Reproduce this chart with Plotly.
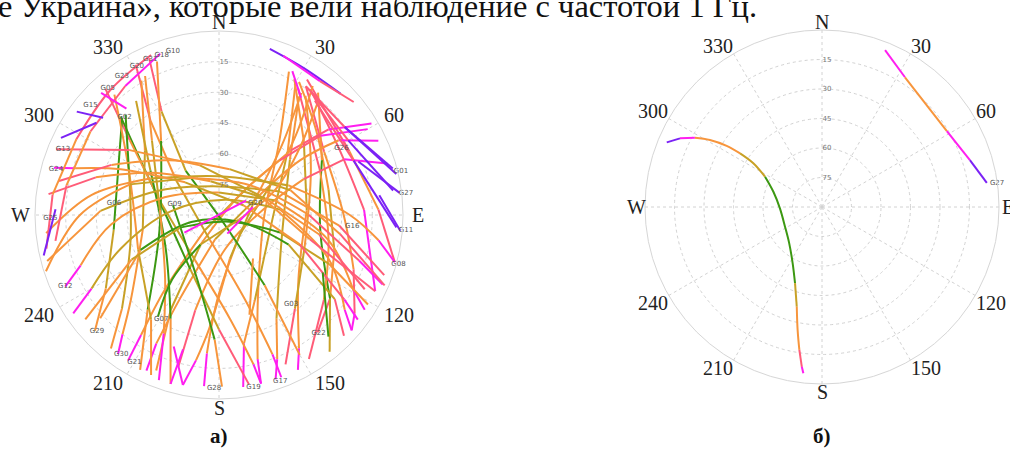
import math
import plotly.graph_objects as go

TOP_TEXT = "е Украина», которые вели наблюдение с частотой 1 Гц."
PANEL_LABELS = ["а)", "б)"]
ANG_TICKS = [0, 30, 60, 90, 120, 150, 180, 210, 240, 270, 300, 330]
ANG_LABELS = ["N", "30", "60", "E", "120", "150", "S", "210", "240", "W", "300", "330"]
EL_TICKS = [15, 30, 45, 60, 75]

# signal-level colour classes: purple, magenta, pink, orange, olive, green
LEVEL_COLORS = ["#7b22f5", "#ff1ef0", "#ff5c78", "#f7953c", "#c8a126", "#3c9812"]

# ---- panel a): satellite tracks (azimuth deg, elevation deg, colour class per segment)
TRACKS_A_AZ = [
    [31, 49, 77, 107, 127, 140],
    [34, 59, 90, 112, 126, 131],
    [36, 62, 88, 116],
    [29, 49, 87, 129, 149, 153],
    [39, 62, 98, 127, 141],
    [34, 52, 112, 151, 158, 161],
    [26, 39, 96, 155, 165, 166],
    [33, 64, 88, 105],
    [32, 66, 103, 129, 148],
    [30, 47, 106, 157, 169, 172],
    [36, 64, 112, 141, 156],
    [59, 52, 48, 46, 223, 216, 213, 212],
    [65, 58, 56, 64, 189, 205, 206, 205],
    [73, 66, 67, 81, 170, 194, 195],
    [36, 44, 60, 134, 181, 185, 185],
    [34, 42, 67, 166, 185, 189, 192],
    [60, 52, 48, 46, 212, 207, 202],
    [315, 305, 270, 208, 180, 170],
    [318, 310, 284, 208, 174, 167, 166],
    [331, 324, 309, 200, 163, 159, 159],
    [336, 331, 323, 149, 147, 150],
    [282, 199, 182, 179],
    [315, 294, 262, 237, 227],
    [330, 311, 259, 226, 219, 216],
    [338, 322, 256, 217, 207],
    [319, 296, 247, 213, 203],
    [317, 296, 254, 226, 219],
    [324, 303, 237, 205, 196],
    [332, 318, 275, 220, 205, 200],
    [245, 250, 265, 288, 0, 75, 103, 119, 123],
    [255, 272, 293, 0, 69, 95, 110],
    [236, 240, 251, 274, 22, 85, 112, 127, 131],
    [264, 279, 298, 0, 67, 90, 99, 105],
    [229, 246, 256, 108, 113, 126, 134],
    [232, 243, 252, 123, 106, 114, 121],
    [292, 306, 339, 64, 105, 116],
    [286, 288, 295, 314, 69, 110, 124, 127],
    [252, 270, 289, 322, 46, 90, 108, 113],
    [277, 287, 302, 346, 70, 101, 117],
    [282, 295, 318, 13, 71, 99, 113],
    [211, 216, 212, 103, 66, 51, 41],
    [337, 319, 298, 277, 259],
    [340, 324, 303, 281, 261],
    [296, 307], [306, 310], [316, 319], [257, 272],
    [17, 30, 45], [22, 37, 50], [27, 35],
    [40, 68, 94], [37, 60, 82], [34, 55, 75],
    [55, 77], [69, 83], [83, 95],
    [142, 163], [199, 192], [195, 196], [119, 138], [243, 62], [156, 77],
]
TRACKS_A_EL = [
    [14, 27, 35, 31, 22, 15],
    [14, 30, 29, 19, 8, 4],
    [14, 23, 19, 5],
    [14, 35, 47, 40, 14, 5],
    [13, 33, 40, 22, 4],
    [20, 46, 57, 32, 14, 5],
    [12, 43, 68, 45, 17, 5],
    [11, 19, 12, 1],
    [17, 36, 35, 24, 7],
    [15, 44, 64, 45, 26, 5],
    [18, 40, 45, 31, 10],
    [3, 22, 43, 69, 80, 45, 20, 6],
    [4, 21, 42, 68, 78, 45, 20, 6],
    [4, 23, 45, 67, 73, 42, 13],
    [12, 36, 61, 76, 49, 22, 6],
    [18, 44, 71, 68, 34, 18, 5],
    [6, 27, 50, 76, 73, 38, 8],
    [22, 43, 64, 60, 34, 6],
    [7, 33, 60, 65, 39, 15, 5],
    [6, 33, 63, 77, 47, 17, 5],
    [6, 32, 63, 84, 49, 11],
    [67, 57, 29, 6],
    [23, 36, 38, 24, 7],
    [14, 42, 52, 30, 15, 6],
    [9, 44, 60, 32, 5],
    [12, 41, 47, 29, 5],
    [23, 41, 45, 24, 6],
    [21, 50, 59, 34, 4],
    [13, 41, 61, 49, 26, 4],
    [7, 18, 37, 62, 79, 62, 35, 15, 5],
    [3, 32, 59, 76, 58, 31, 4],
    [4, 18, 39, 66, 82, 60, 32, 13, 4],
    [5, 27, 52, 71, 53, 26, 11, 1],
    [13, 48, 76, 79, 53, 20, 5],
    [7, 42, 70, 84, 59, 31, 5],
    [4, 36, 64, 68, 44, 5],
    [6, 16, 37, 67, 77, 48, 16, 5],
    [1, 22, 44, 67, 69, 46, 18, 3],
    [6, 27, 51, 73, 66, 40, 10],
    [10, 32, 54, 67, 53, 30, 2],
    [32, 51, 73, 80, 60, 40, 16],
    [5, 9, 11, 8, 4],
    [6, 12, 15, 14, 9],
    [4, 15], [4, 16], [7, 21], [2, 10],
    [5, 7, 6], [6, 8, 4], [11, 20],
    [17, 19, 3], [15, 17, 4], [14, 15, 2],
    [15, 1], [17, 1], [11, 1],
    [63, 39], [22, 5], [22, 4], [32, 10], [71, 75], [80, 73],
]
TRACKS_A_LVL = [
    [3, 3, 4, 3, 2],
    [2, 3, 3, 2, 1],
    [2, 2, 1],
    [3, 4, 3, 3, 1],
    [3, 5, 5, 4],
    [3, 4, 4, 3, 1],
    [3, 3, 3, 3, 1],
    [2, 3, 2],
    [2, 3, 3, 2],
    [3, 4, 4, 3, 1],
    [3, 3, 4, 2],
    [1, 2, 3, 4, 3, 3, 1],
    [1, 3, 3, 4, 3, 3, 1],
    [1, 2, 3, 3, 3, 2],
    [3, 3, 4, 3, 3, 1],
    [3, 3, 4, 3, 3, 1],
    [1, 2, 3, 3, 4, 3],
    [5, 5, 5, 4, 2],
    [2, 3, 4, 3, 3, 1],
    [2, 3, 4, 3, 3, 1],
    [2, 4, 5, 5, 3],
    [5, 5, 3],
    [5, 5, 4, 3],
    [3, 4, 3, 3, 1],
    [3, 5, 5, 3],
    [3, 3, 4, 3],
    [5, 4, 4, 3],
    [4, 5, 5, 3],
    [3, 4, 3, 3, 1],
    [1, 3, 3, 3, 4, 3, 3, 1],
    [3, 4, 4, 4, 3, 2],
    [1, 4, 4, 4, 4, 3, 3, 1],
    [3, 3, 4, 4, 3, 3, 1],
    [3, 5, 5, 5, 4, 2],
    [3, 4, 5, 5, 4, 3],
    [2, 3, 4, 3, 2],
    [1, 3, 3, 4, 3, 2, 1],
    [3, 3, 4, 3, 3, 2, 1],
    [2, 3, 3, 4, 3, 2],
    [2, 3, 3, 4, 3, 2],
    [5, 5, 4, 3, 3, 3],
    [2, 2, 3, 2],
    [1, 2, 3, 2],
    [0], [0], [1], [0],
    [0, 0], [1, 2], [1],
    [2, 0], [2, 0], [2, 0],
    [0], [0], [0],
    [3], [1], [1], [5], [1], [1],
]

PRN_A = ["G10", "G31", "G18", "G20", "G23", "G05", "G15", "G02", "G13", "G24", "G25",
         "G06", "G09", "G20", "G26", "G01", "G27", "G11", "G16", "G08", "G03", "G22",
         "G17", "G19", "G28", "G21", "G30", "G29", "G07", "G12"]
PRN_A_AZ = [342, 334, 338, 329, 323, 317, 309, 314, 292, 285, 269,
            276, 282, 68, 60, 76, 83, 95, 95, 106, 144, 142,
            162, 171, 184, 212, 217, 228, 212, 246]
PRN_A_EL = [5.6, 5.2, 5.9, 5.2, 5.2, 5.1, 4.6, 20.9, 3.9, 3.8, 4.0,
            34.8, 64.2, 74.7, 24.9, 1.9, 1.4, 1.7, 28.1, 2.3, 36.0, 16.6,
            4.4, 4.8, 5.2, 5.3, 4.7, 5.0, 30.0, 3.8]

# ---- panel б): two tracks
TRACKS_B_AZ = [
    [21.9, 32.6, 58.7, 72.4, 81.7],
    [292.6, 295.8, 298.6, 300.9, 302.7, 303.2, 302.5, 298.0, 287.4, 268.2,
     242.0, 222.0, 207.5, 199.5, 194.2, 191.2, 189.0, 187.2, 186.4],
]
TRACKS_B_EL = [
    [4.0, 11.7, 15.7, 11.1, 5.3],
    [4.5, 9.8, 16.4, 23.6, 32.4, 40.2, 48.6, 57.2, 64.1, 68.6,
     68.7, 65.1, 57.7, 48.9, 37.7, 26.2, 16.4, 8.1, 4.9],
]
TRACKS_B_LVL = [
    [1, 3, 1, 0],
    [0, 1, 3, 3, 3, 4, 4, 5, 5, 5, 5, 5, 5, 4, 3, 3, 2, 1],
]
PRN_B = ["G27"]
PRN_B_AZ = [82]
PRN_B_EL = [3.8]

W, H = 1010, 453
# panel geometry (pixels): centre, plot radius, label ellipse radii and gap
PANELS = [
    dict(cx=219, cy=215, R=184, Rx=187, Ry=182, gap=4),
    dict(cx=822, cy=207, R=177, Rx=177, Ry=177, gap=1),
]


def add_track(fig, az, el, lv, subplot):
    i = 0
    n = len(lv)
    while i < n:
        j = i
        while j + 1 < n and lv[j + 1] == lv[i]:
            j += 1
        fig.add_trace(go.Scatterpolar(
            theta=az[i:j + 2], r=el[i:j + 2], mode="lines",
            line=dict(color=LEVEL_COLORS[lv[i]], width=2, shape="spline", smoothing=1),
            subplot=subplot, hoverinfo="skip", showlegend=False))
        i = j + 1


fig = go.Figure()
for az, el, lv in zip(TRACKS_A_AZ, TRACKS_A_EL, TRACKS_A_LVL):
    add_track(fig, az, el, lv, "polar")
for az, el, lv in zip(TRACKS_B_AZ, TRACKS_B_EL, TRACKS_B_LVL):
    add_track(fig, az, el, lv, "polar2")

for sub, names, azs, els in (("polar", PRN_A, PRN_A_AZ, PRN_A_EL),
                             ("polar2", PRN_B, PRN_B_AZ, PRN_B_EL)):
    fig.add_trace(go.Scatterpolar(theta=azs, r=els, text=names, mode="text",
                                  textposition="middle right", cliponaxis=False,
                                  textfont=dict(size=7, color="#555555", family="DejaVu Sans"),
                                  subplot=sub, hoverinfo="skip", showlegend=False))


def polar_cfg(p):
    return dict(
        domain=dict(x=[(p["cx"] - p["R"]) / W, (p["cx"] + p["R"]) / W],
                    y=[1 - (p["cy"] + p["R"]) / H, 1 - (p["cy"] - p["R"]) / H]),
        bgcolor="white",
        angularaxis=dict(
            rotation=90, direction="clockwise",
            tickmode="array", tickvals=ANG_TICKS, ticktext=ANG_LABELS,
            showticklabels=False,
            ticks="", showline=True, linecolor="#d6d6d6", linewidth=1,
            showgrid=True, gridcolor="#d2d2d2", griddash="3px,3px", gridwidth=1,
        ),
        radialaxis=dict(
            range=[90, 0], angle=90, tickangle=90,
            tickmode="array", tickvals=EL_TICKS,
            tickfont=dict(family="DejaVu Sans", size=7, color="#777777"),
            ticks="", showline=False, showgrid=True,
            gridcolor="#d2d2d2", griddash="3px,3px", gridwidth=1,
        ),
    )


annotations = [
    dict(text=TOP_TEXT, x=-4 / W, y=0.942, xref="paper", yref="paper",
         xanchor="left", yanchor="bottom", showarrow=False,
         font=dict(family="Liberation Serif", size=32.5, color="#111111")),
]
for p, lab in zip(PANELS, PANEL_LABELS):
    annotations.append(dict(text="<b>" + lab + "</b>", x=p["cx"] / W, y=1 - 436 / H,
                            xref="paper", yref="paper", xanchor="center", yanchor="middle",
                            showarrow=False,
                            font=dict(family="Liberation Serif", size=21, color="#111111")))
    for ang, txt in zip(ANG_TICKS, ANG_LABELS):
        t = math.radians(ang)
        s, c = math.sin(t), math.cos(t)
        w = 15 if txt in ("N", "E", "S", "W") else 10 * len(txt)
        dx = (p["Rx"] + p["gap"]) * s + (math.copysign(w / 2, s) if abs(s) > 0.1 else 0)
        dy = (p["Ry"] + p["gap"]) * c + (math.copysign(7, c) if abs(c) > 0.1 else 0)
        annotations.append(dict(text=txt, x=(p["cx"] + dx) / W, y=1 - (p["cy"] - dy) / H,
                                xref="paper", yref="paper",
                                xanchor="center", yanchor="middle", showarrow=False,
                                font=dict(family="Liberation Serif", size=20, color="#222222")))

fig.update_layout(
    width=W, height=H,
    margin=dict(l=0, r=0, t=0, b=0),
    paper_bgcolor="white", plot_bgcolor="white",
    showlegend=False,
    polar=polar_cfg(PANELS[0]),
    polar2=polar_cfg(PANELS[1]),
    annotations=annotations,
)

fig.write_html("out.html")
